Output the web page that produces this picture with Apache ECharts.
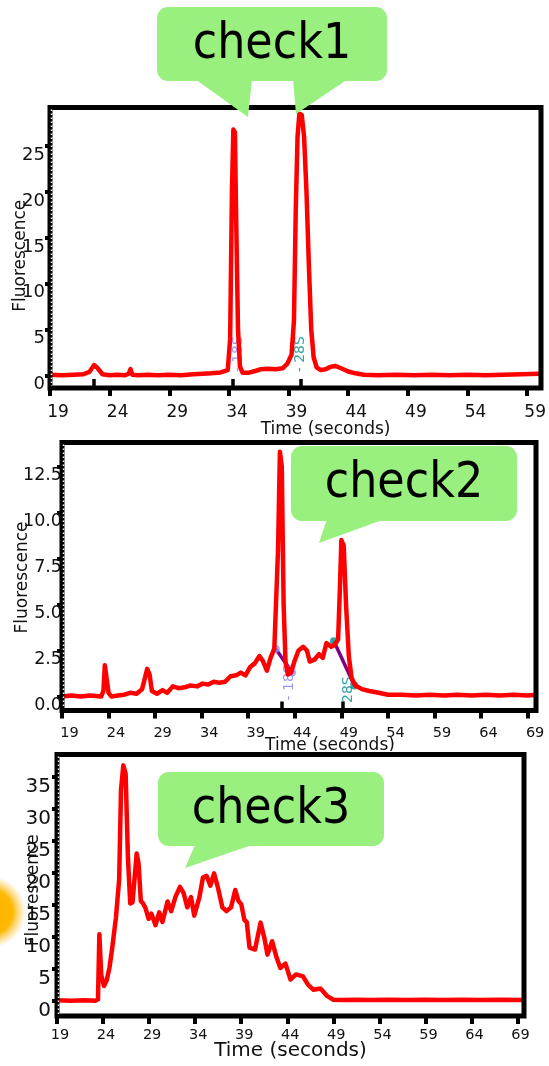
<!DOCTYPE html>
<html>
<head>
<meta charset="utf-8">
<script src="https://cdn.jsdelivr.net/npm/echarts@6/dist/echarts.min.js"></script>
<style>
  html, body { margin: 0; padding: 0; background: #fff; }
  #chart { width: 549px; height: 1066px; }
</style>
</head>
<body>
<div id="chart"></div>
<script>
// ---- Run 1 electropherogram ----
const run1Time = [19, 20, 21, 21.8, 22.3, 22.7, 23.0, 23.4, 24, 24.6, 25.3, 25.6, 25.75, 25.9, 26.4, 27.2, 28, 29, 30, 31, 31.8, 32.5, 33.3,
  33.9, 34.1, 34.25, 34.37, 34.5, 34.62, 34.76, 34.92, 35.15, 35.6, 36.2, 36.7, 37.3, 37.9, 38.5, 38.9, 39.25, 39.45, 39.6, 39.75, 39.9,
  40.1, 40.3, 40.5, 40.7, 40.9, 41.1, 41.35, 41.7, 42.1, 42.5, 42.9, 43.4, 44.0, 44.6, 45.3, 46.5, 48, 49.5, 51, 52.5, 54, 55.5, 57, 58.5, 60];
const run1Fluor = [0.1, 0.05, 0.1, 0.15, 0.4, 1.15, 0.8, 0.15, 0.05, 0.1, 0.05, 0.2, 0.7, 0.1, 0.05, 0.1, 0.05, 0.1, 0.05, 0.15, 0.2, 0.25, 0.35,
  0.6, 4, 20, 26.8, 26.5, 16, 5, 1.0, 0.3, 0.3, 0.5, 0.7, 0.75, 0.7, 0.8, 1.3, 2.3, 6, 18, 26, 28.5,
  28.4, 26, 20, 12, 5, 2.0, 0.9, 0.6, 0.7, 0.95, 1.05, 0.8, 0.45, 0.25, 0.1, 0.05, 0.1, 0.05, 0.1, 0.05, 0.1, 0.05, 0.1, 0.15, 0.2];

// ---- Run 2 electropherogram ----
const run2Time = [19, 20, 21, 22, 23.2, 23.45, 23.6, 23.8, 24.0, 24.3, 25, 25.7, 26.3, 27, 27.6, 27.9, 28.15, 28.4, 28.65, 29.2, 29.8, 30.3,
  30.9, 31.5, 32.2, 32.8, 33.5, 34.1, 34.7, 35.3, 35.9, 36.5, 37.1, 37.7, 38.2, 38.7, 39.2, 39.7, 40.2, 40.6, 41.0, 41.4, 41.8, 42.2,
  42.4, 42.6, 42.8, 43.0, 43.25, 43.6, 43.95, 44.4, 44.9, 45.3, 45.6, 46.1, 46.6, 47.0, 47.4, 47.9, 48.3, 48.65, 48.85, 49.0, 49.25,
  49.5, 49.8, 50.1, 50.5, 51.2, 52, 53, 54, 55.5, 57, 58.5, 60, 61.5, 63, 64.5, 66, 67.5, 69, 69.9];
const run2Fluor = [0.0, 0.05, 0.0, 0.05, 0.0, 0.3, 1.7, 1.6, 0.2, 0.0, 0.05, 0.1, 0.2, 0.15, 0.4, 1.0, 1.5, 1.2, 0.3, 0.15, 0.35, 0.2,
  0.55, 0.45, 0.5, 0.6, 0.55, 0.7, 0.65, 0.8, 0.75, 0.8, 1.1, 1.15, 1.3, 1.15, 1.6, 1.8, 2.2, 1.9, 1.4, 2.1, 2.6, 8,
  13.3, 12.5, 5, 1.9, 1.2, 1.3, 1.9, 2.5, 2.7, 2.5, 1.9, 2.0, 2.3, 2.1, 2.9, 2.7, 2.8, 3.1, 6, 8.5, 8.2,
  5, 2.2, 1.0, 0.6, 0.4, 0.3, 0.2, 0.1, 0.1, 0.05, 0.1, 0.05, 0.1, 0.05, 0.1, 0.05, 0.1, 0.05, 0.1];

// ---- Run 3 electropherogram ----
const run3Time = [19, 20.5, 22, 23.2, 23.45, 23.6, 23.8, 24.1, 24.4, 24.7, 25.0, 25.4, 25.75, 25.95, 26.2, 26.45, 26.7, 26.95, 27.2, 27.45,
  27.65, 27.85, 28.1, 28.35, 28.6, 28.95, 29.25, 29.7, 30.1, 30.45, 31.0, 31.4, 31.85, 32.35, 32.75, 33.15, 33.55, 33.9, 34.45, 34.85,
  35.25, 35.65, 36.05, 36.45, 36.95, 37.4, 37.9, 38.35, 38.7, 39.0, 39.35, 39.6, 39.9, 40.5, 41.1, 41.5, 41.85, 42.35, 42.85, 43.25,
  43.8, 44.35, 44.95, 45.7, 46.25, 46.85, 47.6, 48.35, 49.0, 50, 51.5, 53, 55, 57, 59, 61, 63, 65, 67, 69.7];
const run3Fluor = [0.05, 0.0, 0.05, 0.0, 0.2, 10.4, 4, 2.3, 3.2, 5.2, 8.3, 13, 19, 33, 36.8, 35.5, 22.4, 15.2, 15.4, 19.6,
  23.0, 21.5, 15.6, 15.2, 14.5, 12.8, 13.6, 11.8, 13.8, 12.3, 15.5, 14.0, 16.2, 17.8, 16.8, 14.6, 16.2, 13.3, 16.1, 19.3,
  19.5, 18.0, 19.9, 17.8, 14.6, 14.0, 14.6, 17.3, 15.6, 15.1, 12.6, 12.3, 8.3, 8.0, 12.2, 9.9, 7.2, 9.3, 6.7, 5.1,
  5.8, 3.3, 4.1, 3.8, 2.5, 1.7, 1.9, 0.7, 0.15, 0.1, 0.15, 0.1, 0.15, 0.1, 0.15, 0.1, 0.15, 0.1, 0.15, 0.1];

// ---- Axis ticks ----
const timeTicks1 = [19, 24, 29, 34, 39, 44, 49, 54, 59];
const timeTicks23 = [19, 24, 29, 34, 39, 44, 49, 54, 59, 64, 69];
const fluorTicks1 = [0, 5, 10, 15, 20, 25];
const fluorTicks2 = [0, 2.5, 5, 7.5, 10, 12.5];
const fluorTicks3 = [0, 5, 10, 15, 20, 25, 30, 35];

// ---- Peak markers and fragment annotations ----
const peakMarkers1 = [22.7, 34.3, 40.0];
const peakMarkers2 = [42.55, 49.15];
const fragmentNames = ['- 18S', '- 28S'];
const fragmentTime1 = [34.8, 40.0];
const fragmentTop1 = [4.3, 4.3];
const fragmentTime2 = [43.4, 49.7];
const fragmentTop2 = [1.75, 1.1];
const band18S2 = [[41.95, 2.6], [43.7, 1.3]];
const band28S2 = [[48.2, 3.0], [50.4, 0.6]];

const calloutTexts = ['check1', 'check2', 'check3'];

const FONT = '"DejaVu Sans", Verdana, sans-serif';
const TXT = '#111';

// Panel geometry and axis styling
const panels = [
  { left: 50, top: 107.5, width: 491, height: 280.5, xMin: 19, xMax: 60.0, yMin: -1.35, yMax: 29.2,
    xTicks: timeTicks1, yTicks: fluorTicks1, markers: peakMarkers1, yDigits: 0,
    xFont: 17, yFont: 18, xDx: 8, xMargin: 16, yMargin: 5,
    xNameGap: 33, xNameShift: 31, xNameFont: 17, yNameGap: 21, yNameShift: 8, z: 0 },
  { left: 62, top: 442.5, width: 474, height: 268, xMin: 19, xMax: 69.9, yMin: -0.76, yMax: 13.8,
    xTicks: timeTicks23, yTicks: fluorTicks2, markers: peakMarkers2, yDigits: 1,
    xFont: 14.5, yFont: 17.5, xDx: 7.5, xMargin: 15, yMargin: 0,
    xNameGap: 27, xNameShift: 31, xNameFont: 17, yNameGap: 31, yNameShift: 1, z: 0 },
  { left: 57, top: 754.5, width: 467, height: 261.5, xMin: 19, xMax: 69.7, yMin: -2.4, yMax: 38.5,
    xTicks: timeTicks23, yTicks: fluorTicks3, markers: [], yDigits: 0,
    xFont: 14.5, yFont: 20, xDx: 3, xMargin: 12, yMargin: 6,
    xNameGap: 25, xNameShift: 0, xNameFont: 20, yNameGap: 15, yNameShift: 5, z: 4 }
];

const zip = (a, b) => a.map((v, i) => [v, b[i]]);

const grid = [], xAxis = [], yAxis = [], series = [];

panels.forEach((p, i) => {
  grid.push({ left: p.left, top: p.top, width: p.width, height: p.height, show: false, z: p.z });
  xAxis.push({
    type: 'value', gridIndex: i, min: p.xMin, max: p.xMax, z: p.z,
    axisLine: { show: false, onZero: false },
    splitLine: { show: false },
    axisTick: { show: true, customValues: p.xTicks, length: 8, lineStyle: { color: '#000', width: 4 } },
    axisLabel: { customValues: p.xTicks, margin: p.xMargin, fontSize: p.xFont, fontFamily: FONT, color: TXT,
      padding: [0, 0, 0, 2 * p.xDx] },
    name: 'Time (seconds)', nameLocation: 'middle', nameGap: p.xNameGap, nameMoveOverlap: false,
    nameTextStyle: { fontSize: p.xNameFont, fontFamily: FONT, color: TXT, padding: [0, 0, 0, 2 * p.xNameShift] }
  });
  // inward ticks flagging detected peaks
  xAxis.push({
    type: 'value', gridIndex: i, min: p.xMin, max: p.xMax, position: 'bottom', z: p.z,
    axisLine: { show: false, onZero: false },
    splitLine: { show: false },
    axisLabel: { show: false },
    axisTick: { show: p.markers.length > 0, inside: true, customValues: p.markers.length ? p.markers : [p.xMin],
      length: 9, lineStyle: { color: '#000', width: 3.5 } }
  });
  yAxis.push({
    type: 'value', gridIndex: i, min: p.yMin, max: p.yMax, z: p.z,
    axisLine: { show: false, onZero: false },
    splitLine: { show: false },
    axisTick: { show: true, customValues: p.yTicks, length: 5, lineStyle: { color: '#000', width: 4 } },
    axisLabel: { customValues: p.yTicks, margin: p.yMargin, fontSize: p.yFont, fontFamily: FONT, color: TXT,
      verticalAlign: 'top', formatter: v => v.toFixed(p.yDigits) },
    name: 'Fluorescence', nameLocation: 'middle', nameGap: p.yNameGap, nameMoveOverlap: false,
    nameTextStyle: { fontSize: 17, fontFamily: FONT, color: TXT, padding: [0, 2 * p.yNameShift, 0, 0] }
  });
});

const traceStyle = { color: '#ff0000', width: 4.5, join: 'round', cap: 'round' };

function trace(i, t, f) {
  return {
    type: 'line', xAxisIndex: 2 * i, yAxisIndex: i, data: zip(t, f), symbol: 'none',
    lineStyle: traceStyle, itemStyle: { color: '#ff0000' }, z: panels[i].z + 2, animation: false
  };
}

function fragmentLabels(i, times, tops, colors) {
  return {
    type: 'scatter', xAxisIndex: 2 * i, yAxisIndex: i, symbolSize: 0, z: panels[i].z + 1, animation: false,
    data: times.map((t, k) => ({
      value: [t, tops[k]],
      label: {
        show: true, formatter: fragmentNames[k], rotate: 90, position: [0, 0],
        align: 'right', verticalAlign: 'middle', fontSize: 14, fontFamily: FONT, color: colors[k]
      }
    }))
  };
}

series.push(fragmentLabels(0, fragmentTime1, fragmentTop1, ['#8080ff', '#008b8b']));
series.push(trace(0, run1Time, run1Fluor));

series.push(fragmentLabels(1, fragmentTime2, fragmentTop2, ['#8080ff', '#008b8b']));
[band18S2, band28S2].forEach(band => series.push({
  type: 'line', xAxisIndex: 2, yAxisIndex: 1, data: band, symbol: 'none',
  lineStyle: { color: '#800080', width: 3.5 }, z: 1, animation: false
}));
series.push({
  type: 'scatter', xAxisIndex: 2, yAxisIndex: 1, symbolSize: 8, z: 1, animation: false,
  data: [
    { value: band18S2[0], itemStyle: { color: '#8f8fff' } },
    { value: band18S2[1], itemStyle: { color: '#8f8fff' } },
    { value: band28S2[0], itemStyle: { color: '#009090' } },
    { value: band28S2[1], itemStyle: { color: '#009090' } }
  ]
});
series.push(trace(1, run2Time, run2Fluor));
series.push(trace(2, run3Time, run3Fluor));

// ---- Overlay graphics: panel frames, speech bubbles ----
const GREEN = '#99f07f';
const graphics = [];

// white backing of the third panel, laid over the second panel's axis title
graphics.push({ type: 'rect', shape: { x: 40, y: 751, width: 509, height: 268 }, style: { fill: '#fff' }, z: 3, silent: true });

// glow at the left edge
graphics.push({
  type: 'circle', shape: { cx: -10, cy: 912, r: 36 }, z: 4, silent: true,
  style: { fill: { type: 'radial', x: 0.5, y: 0.5, r: 0.5,
    colorStops: [{ offset: 0, color: 'rgba(255,180,0,1)' }, { offset: 0.62, color: 'rgba(255,183,0,1)' },
                 { offset: 1, color: 'rgba(255,200,60,0)' }] } }
});

panels.forEach(p => {
  graphics.push({ type: 'rect', shape: { x: p.left, y: p.top, width: p.width, height: p.height },
    style: { fill: 'none', stroke: '#000', lineWidth: 5 }, z: 10, silent: true });
  graphics.push({ type: 'line', shape: { x1: p.left + 1.5, y1: p.top + 2, x2: p.left + 1.5, y2: p.top + p.height - 2 },
    style: { stroke: '#fff', lineWidth: 1.5, lineDash: [1.5, 2.5] }, z: 11, silent: true });
});

function bubble(rect, tails, text, tx, ty) {
  graphics.push({ type: 'rect', shape: { x: rect[0], y: rect[1], width: rect[2], height: rect[3], r: 11 },
    style: { fill: GREEN }, z: 20, silent: true });
  tails.forEach(pts => graphics.push({ type: 'polygon', shape: { points: pts }, style: { fill: GREEN }, z: 20, silent: true }));
  graphics.push({ type: 'text', x: tx, y: ty, scaleX: 0.89, z: 21, silent: true,
    style: { text: text, fontSize: 50, fontFamily: FONT, fill: '#000', align: 'center', verticalAlign: 'middle' } });
}

bubble([157, 7, 230, 74], [[[195, 79], [252, 79], [248, 117]], [[293, 79], [348, 79], [296, 114]]], calloutTexts[0], 272, 45);
bubble([291, 446, 226, 75], [[[327, 519], [385, 519], [319, 543]]], calloutTexts[1], 404, 484);
bubble([158, 772, 226, 74], [[[195, 845], [252, 845], [185, 868]]], calloutTexts[2], 271, 810);

const chart = echarts.init(document.getElementById('chart'));
chart.setOption({
  animation: false,
  backgroundColor: '#fff',
  grid, xAxis, yAxis, series,
  graphic: { elements: graphics }
});
</script>
</body>
</html>
